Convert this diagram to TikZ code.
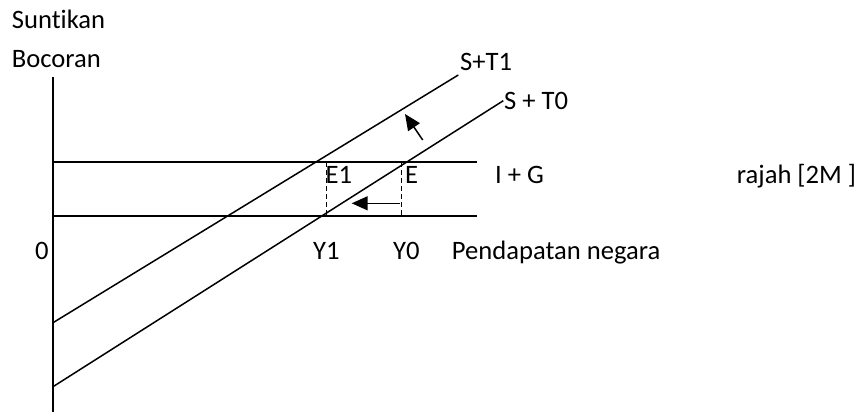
\documentclass[tikz,border=0pt]{standalone}
\usepackage{fontspec}
\setmainfont{Carlito}[RawFeature={-liga}]
\usetikzlibrary{arrows.meta}
\begin{document}
\begin{tikzpicture}[x=1pt,y=-1pt,
  lbl/.style={anchor=base west,inner sep=0pt,font=\fontsize{26.6}{30}\selectfont},
  ln/.style={line width=1.5pt},
  dsh/.style={line width=1.2pt,dash pattern=on 5pt off 3pt},
  arr/.style={line width=1.5pt,-{Triangle[length=16pt,width=14pt]}}]
\useasboundingbox (0,0) rectangle (858,412);
% coordinates
\coordinate (axtop) at (53,77);
\coordinate (axbot) at (53,412);
\coordinate (igL) at (53,162);
\coordinate (igR) at (477,162);
\coordinate (lowL) at (53,216);
\coordinate (lowR) at (477,216);
\coordinate (t1a) at (53,322.7);
\coordinate (t1b) at (458.3,75);
\coordinate (t0a) at (53,386.7);
\coordinate (t0b) at (503.3,100.7);
\coordinate (e1top) at (326.7,162);
\coordinate (e1bot) at (326.7,216);
\coordinate (etop) at (401.7,162);
\coordinate (ebot) at (401.7,216);
\coordinate (harS) at (400,203.3);
\coordinate (harE) at (351.7,203.3);
\coordinate (darS) at (422.7,140);
\coordinate (darE) at (405,114);
% lines
\draw[ln] (axtop) -- (axbot);
\draw[ln] (igL) -- (igR);
\draw[ln] (lowL) -- (lowR);
\draw[ln] (t1a) -- (t1b);
\draw[ln] (t0a) -- (t0b);
\draw[dsh] (e1top) -- (e1bot);
\draw[dsh] (etop) -- (ebot);
\draw[arr] (harS) -- (harE);
\draw[arr] (darS) -- (darE);
% labels
\node[lbl] (sunt) at (11.7,29) {Suntikan};
\node[lbl] (boc) at (11.7,67) {Bocoran};
\node[lbl] (st1) at (460,70.7) {S+T1};
\node[lbl] (st0) at (504,109) {S + T0};
\node[lbl] (e1) at (325.5,183) {E1};
\node[lbl] (e) at (405,183) {E};
\node[lbl] (ig) at (495,183) {I + G};
\node[lbl] (rajah) at (736.7,183) {rajah [2M ]};
\node[lbl] (zero) at (35,259) {0};
\node[lbl] (y1) at (313,259) {Y1};
\node[lbl] (y0) at (393,259) {Y0};
\node[lbl] (pend) at (451.7,259) {Pendapatan negara};
\end{tikzpicture}
\end{document}
